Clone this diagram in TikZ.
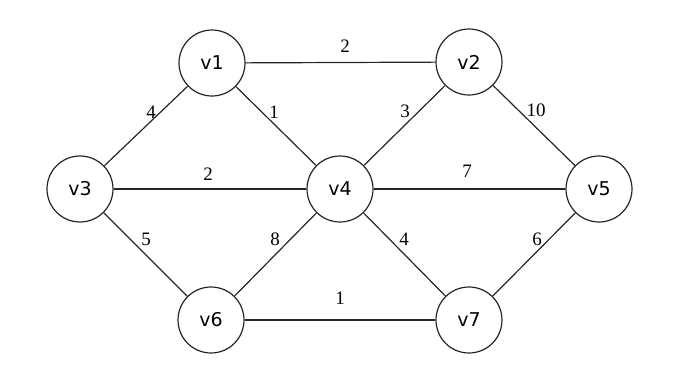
\documentclass[tikz,border=0pt]{standalone}
\usepackage{fontspec}
\setmainfont{Liberation Serif}
\newfontfamily\nodefont{DejaVu Sans}
\begin{document}
\begin{tikzpicture}[x=1pt,y=-1pt,
  vert/.style={circle,draw=black!85,line width=1.2pt,minimum size=66pt,inner sep=0pt,font=\nodefont\fontsize{19}{19}\selectfont},
  edge/.style={draw=black!85,line width=1.2pt},
  wt/.style={font=\fontsize{19}{19}\selectfont,inner sep=1pt}]
\useasboundingbox (0,0) rectangle (683,378);
\node[vert] (v1) at (212,63) {v1};
\node[vert] (v2) at (469,62) {v2};
\node[vert] (v3) at (80,189) {v3};
\node[vert] (v4) at (340,189) {v4};
\node[vert] (v5) at (599,189) {v5};
\node[vert] (v6) at (211,320) {v6};
\node[vert] (v7) at (469,320) {v7};
\draw[edge] (v1) -- (v2);
\draw[edge] (v1) -- (v3);
\draw[edge] (v1) -- (v4);
\draw[edge] (v2) -- (v4);
\draw[edge] (v2) -- (v5);
\draw[edge] (v3) -- (v4);
\draw[edge] (v4) -- (v5);
\draw[edge] (v3) -- (v6);
\draw[edge] (v4) -- (v6);
\draw[edge] (v4) -- (v7);
\draw[edge] (v5) -- (v7);
\draw[edge] (v6) -- (v7);
\node[wt] (w12) at (345,46) {2};
\node[wt] (w13) at (151,112) {4};
\node[wt] (w14) at (274,112) {1};
\node[wt] (w24) at (405,111) {3};
\node[wt] (w25) at (536,110) {10};
\node[wt] (w34) at (208,174) {2};
\node[wt] (w45) at (467,171) {7};
\node[wt] (w36) at (146,239) {5};
\node[wt] (w46) at (275,239) {8};
\node[wt] (w47) at (404,239) {4};
\node[wt] (w57) at (537,239) {6};
\node[wt] (w67) at (340,298) {1};
\end{tikzpicture}
\end{document}
